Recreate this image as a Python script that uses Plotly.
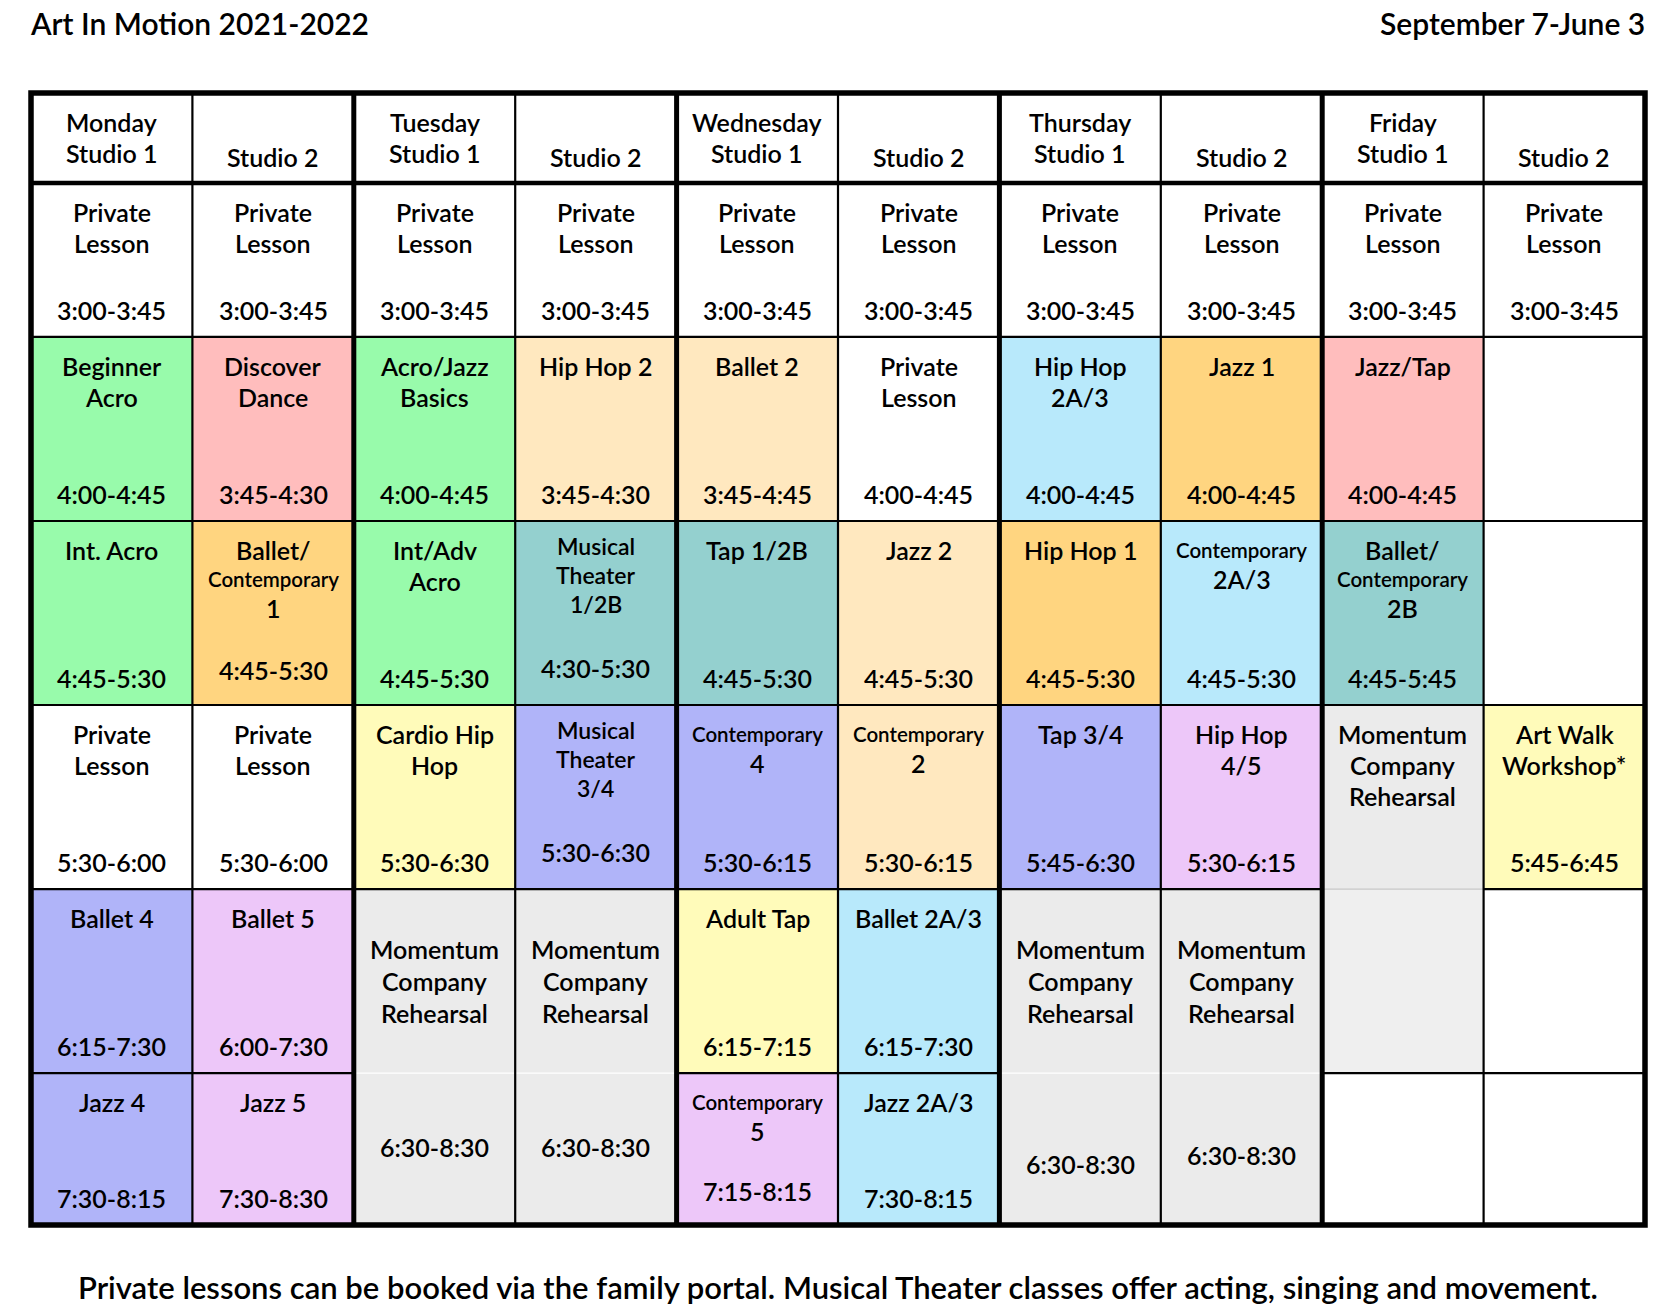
import plotly.graph_objects as go

# ---------------- data ----------------
title_left = "Art In Motion 2021-2022"
title_right = "September 7-June 3"
footer_text = ("Private lessons can be booked via the family portal. "
               "Musical Theater classes offer acting, singing and movement.")

day_labels = ["Monday", "", "Tuesday", "", "Wednesday", "", "Thursday", "", "Friday", ""]
studio_labels = ["Studio 1", "Studio 2"] * 5

palette = {
    "white": "#FFFFFF",
    "green": "#98FBAB",
    "pink": "#FFBDBD",
    "orange": "#FFD580",
    "peach": "#FFE8BF",
    "teal": "#94D0CF",
    "blue": "#B8E9FB",
    "peri": "#B0B4F9",
    "lav": "#EDC7F9",
    "yellow": "#FFFBBA",
    "gray": "#EBEBEB",
    "lgray": "#EFEFEF",
}

# one list per studio column: (row, rowspan, name lines "|"-separated, time, colour)
mon_s1 = [(0, 1, "Private|Lesson", "3:00-3:45", "white"),
          (1, 1, "Beginner|Acro", "4:00-4:45", "green"),
          (2, 1, "Int. Acro", "4:45-5:30", "green"),
          (3, 1, "Private|Lesson", "5:30-6:00", "white"),
          (4, 1, "Ballet 4", "6:15-7:30", "peri"),
          (5, 1, "Jazz 4", "7:30-8:15", "peri")]
mon_s2 = [(0, 1, "Private|Lesson", "3:00-3:45", "white"),
          (1, 1, "Discover|Dance", "3:45-4:30", "pink"),
          (2, 1, "Ballet/|Contemporary|1", "4:45-5:30", "orange"),
          (3, 1, "Private|Lesson", "5:30-6:00", "white"),
          (4, 1, "Ballet 5", "6:00-7:30", "lav"),
          (5, 1, "Jazz 5", "7:30-8:30", "lav")]
tue_s1 = [(0, 1, "Private|Lesson", "3:00-3:45", "white"),
          (1, 1, "Acro/Jazz|Basics", "4:00-4:45", "green"),
          (2, 1, "Int/Adv|Acro", "4:45-5:30", "green"),
          (3, 1, "Cardio Hip|Hop", "5:30-6:30", "yellow"),
          (4, 2, "Momentum|Company|Rehearsal", "6:30-8:30", "gray")]
tue_s2 = [(0, 1, "Private|Lesson", "3:00-3:45", "white"),
          (1, 1, "Hip Hop 2", "3:45-4:30", "peach"),
          (2, 1, "Musical|Theater|1/2B", "4:30-5:30", "teal"),
          (3, 1, "Musical|Theater|3/4", "5:30-6:30", "peri"),
          (4, 2, "Momentum|Company|Rehearsal", "6:30-8:30", "gray")]
wed_s1 = [(0, 1, "Private|Lesson", "3:00-3:45", "white"),
          (1, 1, "Ballet 2", "3:45-4:45", "peach"),
          (2, 1, "Tap 1/2B", "4:45-5:30", "teal"),
          (3, 1, "Contemporary|4", "5:30-6:15", "peri"),
          (4, 1, "Adult Tap", "6:15-7:15", "yellow"),
          (5, 1, "Contemporary|5", "7:15-8:15", "lav")]
wed_s2 = [(0, 1, "Private|Lesson", "3:00-3:45", "white"),
          (1, 1, "Private|Lesson", "4:00-4:45", "white"),
          (2, 1, "Jazz 2", "4:45-5:30", "peach"),
          (3, 1, "Contemporary|2", "5:30-6:15", "peach"),
          (4, 1, "Ballet 2A/3", "6:15-7:30", "blue"),
          (5, 1, "Jazz 2A/3", "7:30-8:15", "blue")]
thu_s1 = [(0, 1, "Private|Lesson", "3:00-3:45", "white"),
          (1, 1, "Hip Hop|2A/3", "4:00-4:45", "blue"),
          (2, 1, "Hip Hop 1", "4:45-5:30", "orange"),
          (3, 1, "Tap 3/4", "5:45-6:30", "peri"),
          (4, 2, "Momentum|Company|Rehearsal", "6:30-8:30", "gray")]
thu_s2 = [(0, 1, "Private|Lesson", "3:00-3:45", "white"),
          (1, 1, "Jazz 1", "4:00-4:45", "orange"),
          (2, 1, "Contemporary|2A/3", "4:45-5:30", "blue"),
          (3, 1, "Hip Hop|4/5", "5:30-6:15", "lav"),
          (4, 2, "Momentum|Company|Rehearsal", "6:30-8:30", "gray")]
fri_s1 = [(0, 1, "Private|Lesson", "3:00-3:45", "white"),
          (1, 1, "Jazz/Tap", "4:00-4:45", "pink"),
          (2, 1, "Ballet/|Contemporary|2B", "4:45-5:45", "teal"),
          (3, 1, "Momentum|Company|Rehearsal", "", "gray"),
          (4, 1, "", "", "lgray"),
          (5, 1, "", "", "white")]
fri_s2 = [(0, 1, "Private|Lesson", "3:00-3:45", "white"),
          (1, 1, "", "", "white"),
          (2, 1, "", "", "white"),
          (3, 1, "Art Walk|Workshop*", "5:45-6:45", "yellow"),
          (4, 1, "", "", "white"),
          (5, 1, "", "", "white")]
schedule = [mon_s1, mon_s2, tue_s1, tue_s2, wed_s1, wed_s2, thu_s1, thu_s2, fri_s1, fri_s2]

# ---------------- layout / style ----------------
OFF = 0                      # page body margin is removed below
W, H = 1678 - 2 * OFF, 1316 - 2 * OFF
L, R, T, B = 31.0, 1644.8, 93.1, 1225.3       # table edges in page pixels
row_heights = [89.9, 154.1, 184.1, 184.0, 184.1, 184.1, 151.9]   # header + 6 rows
NC = len(day_labels)
colw = (R - L) / NC
tab_h = sum(row_heights)
row_top = [sum(row_heights[:i]) for i in range(len(row_heights) + 1)]
PAD = 8.0

FONT = "Lato"
WEIGHT = 600
BIG, SMALL, MID = 25, 20.5, 23
soft_seps = {(8, 5): "#C8C8C8"}   # (col, boundary row index in table rows) -> line colour
time_lift = {(1, 3): 8, (3, 3): 10, (3, 4): 10, (4, 6): 7}
span_time_off = {2: 74, 3: 74, 6: 91, 7: 82}

fig = go.Figure()
shapes, annos = [], []


def txt(x, y, s, size, xanchor="center", xref="x", yref="y"):
    annos.append(dict(x=x, y=y, xref=xref, yref=yref, text=s, showarrow=False,
                      xanchor=xanchor, yanchor="middle", borderpad=0,
                      font=dict(family=FONT, size=size, color="black", weight=WEIGHT)))


# cells
for c, col in enumerate(schedule):
    for (r, span, name, time, colour) in col:
        tr = r + 1  # table row index (0 = header)
        y0, y1 = row_top[tr], row_top[tr + span]
        shapes.append(dict(type="rect", xref="x", yref="y", x0=c, x1=c + 1, y0=y0, y1=y1,
                           fillcolor=palette[colour], line=dict(width=0), layer="below"))
        if span > 1:
            for k in range(1, span):
                soft_seps[(c, tr + k)] = "#FFFFFF"
        lines = [l for l in name.split("|") if l] if name else []
        musical = "Musical" in lines
        sizes = [SMALL if l == "Contemporary" else (MID if musical else BIG) for l in lines]
        if span > 1:
            mid = (row_top[tr] + row_top[tr + 1]) / 2
            ys = [mid + (i - (len(lines) - 1) / 2) * 32 for i in range(len(lines))]
            ty = row_top[tr + 1] + span_time_off.get(c, 82)
        else:
            ys, y = [], y0 + (25 if musical else 29)
            for i, s in enumerate(sizes):
                if i > 0:
                    y += 29 if (s < BIG or sizes[i - 1] < BIG) else 31
                ys.append(y)
            ty = y1 - 27 - time_lift.get((c, tr), 0)
        for l, s, yy in zip(lines, sizes, ys):
            txt(c + 0.5, yy, l, s)
        if time:
            txt(c + 0.5, ty, time, BIG)

# header text
for c in range(NC):
    if day_labels[c]:
        txt(c + 0.5, 29, day_labels[c], BIG)
        txt(c + 0.5, 60, studio_labels[c], BIG)
    else:
        txt(c + 0.5, 64, studio_labels[c], BIG)

# horizontal row lines
for tr in range(2, len(row_heights)):
    y = row_top[tr]
    for c in range(NC):
        if (c, tr) in soft_seps:
            shapes.append(dict(type="line", xref="x", yref="y", x0=c, x1=c + 1, y0=y, y1=y,
                               line=dict(color=soft_seps[(c, tr)], width=1.2)))
        else:
            shapes.append(dict(type="line", xref="x", yref="y", x0=c, x1=c + 1, y0=y, y1=y,
                               line=dict(color="black", width=2.2)))
# header bottom
shapes.append(dict(type="line", xref="x", yref="y", x0=0, x1=NC, y0=row_top[1], y1=row_top[1],
                   line=dict(color="black", width=4.5)))
# vertical lines
for c in range(1, NC):
    shapes.append(dict(type="line", xref="x", yref="y", x0=c, x1=c, y0=0, y1=tab_h,
                       line=dict(color="black", width=5 if c % 2 == 0 else 2.2)))
# outer border
shapes.append(dict(type="rect", xref="x", yref="y", x0=0, x1=NC, y0=0, y1=tab_h,
                   line=dict(color="black", width=5.5), fillcolor="rgba(0,0,0,0)"))

# titles / footer (paper coords, computed from page pixels)
plot_top = T - PAD
plot_h = tab_h + 2 * PAD


def ypaper(px):
    return 1 - (px - plot_top) / plot_h


txt(-2.5 / colw, ypaper(23.5), title_left, 30, xanchor="left", yref="paper")
txt(NC + 1.2 / colw, ypaper(23.5), title_right, 30, xanchor="right", yref="paper")
txt(NC / 2, ypaper(1287), footer_text, 31, yref="paper")

fig.update_layout(
    width=W, height=H,
    margin=dict(l=L - OFF - PAD, r=(OFF + W) - R - PAD, t=T - OFF - PAD,
                b=(OFF + H) - B - PAD, pad=0),
    paper_bgcolor="white", plot_bgcolor="white",
    xaxis=dict(range=[-PAD / colw, NC + PAD / colw], visible=False, fixedrange=True),
    yaxis=dict(range=[tab_h + PAD, -PAD], visible=False, fixedrange=True),
    shapes=shapes, annotations=annos, showlegend=False,
)
fig.write_html("out.html",
               config={"displayModeBar": False, "staticPlot": True},
               post_script="document.body.style.margin='0px';"
                           "document.body.style.overflow='hidden';")
